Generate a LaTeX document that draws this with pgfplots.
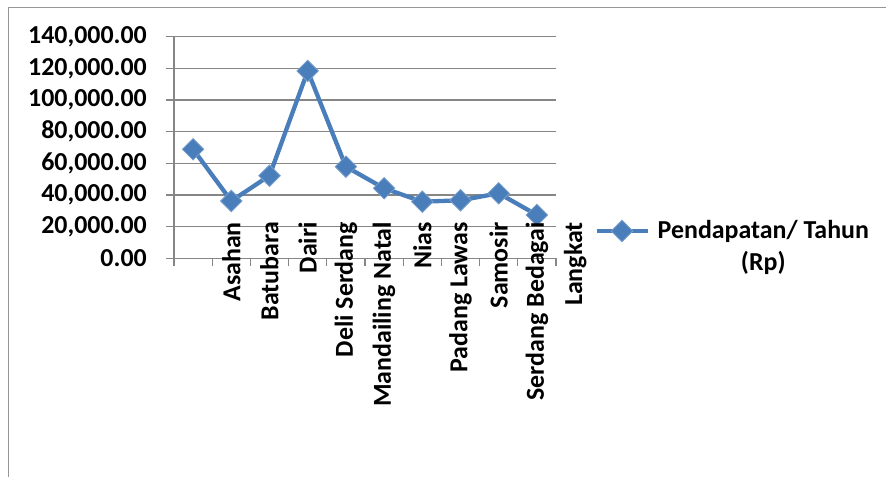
\documentclass[border=0pt]{standalone}
\usepackage{pgfplots}
\pgfplotsset{compat=1.18}
\usepackage{fontspec}
\setmainfont{Carlito}
\definecolor{lineblue}{RGB}{74,126,187}
\definecolor{gridgray}{RGB}{134,134,134}
\definecolor{framegray}{RGB}{150,150,150}
\newcommand\lbl{\fontsize{26}{32}\selectfont\bfseries}
\begin{document}
\begin{tikzpicture}
\useasboundingbox (0,0) rectangle (886bp,477bp);
\draw[framegray, line width=1.5bp] (8.5bp,-2bp) -- (8.5bp,469.5bp) -- (890bp,469.5bp);
\begin{axis}[
  at={(174bp,218.7bp)}, anchor=south west,
  scale only axis, width=382bp, height=221.6bp,
  xmin=0.5, xmax=10.5, ymin=0, ymax=140000,
  axis lines=left, axis line style={-, gridgray, line width=1.2bp},
  xtick={0.5,1.5,...,10.5}, xticklabels={},
  ytick={0,20000,...,140000},
  ymajorgrids, grid style={gridgray, line width=1.2bp},
  tick align=outside, major tick length=8bp,
  tick style={gridgray, line width=1.2bp},
  scaled y ticks=false,
  yticklabel style={font=\lbl, anchor=east, inner sep=0pt, xshift=-19bp,
    /pgf/number format/.cd, fixed, fixed zerofill, precision=2, 1000 sep={,}, assume math mode=true},
  clip=false,
  legend style={at={(1.1,0.0555)}, anchor=west, draw=none, fill=none, inner sep=0pt,
    column sep=6bp, font=\lbl, cells={align=center}},
  legend image code/.code={\draw[mark repeat=2,mark phase=2] plot coordinates {(0bp,15bp) (25.5bp,15bp) (51bp,15bp)};},
]
\addplot[lineblue, line width=4.3bp, mark=square*, mark size=7.6bp,
  mark options={rotate=45, fill=lineblue, draw=lineblue!75!white, line width=0.8bp}]
  coordinates {
  (1,68870) (2,36200) (3,52190) (4,118340) (5,57870)
  (6,44230) (7,35760) (8,36640) (9,41070) (10,27360)
};
\addlegendentry{Pendapatan/ Tahun\\(Rp)}
\end{axis}
\begin{axis}[
  at={(212.2bp,255bp)}, anchor=south west,
  scale only axis, width=382bp, height=10bp,
  xmin=1.5, xmax=11.5, ymin=0, ymax=1,
  axis line style={draw=none}, ytick=\empty,
  xtick={2,...,11}, major tick length=0pt,
  xticklabels={Asahan,Batubara,Dairi,Deli Serdang,Mandailing Natal,Nias,Padang Lawas,Samosir,Serdang Bedagai,Langkat},
  xticklabel style={font=\lbl, rotate=90, anchor=east, inner sep=0pt},
]
\end{axis}
\end{tikzpicture}
\end{document}
